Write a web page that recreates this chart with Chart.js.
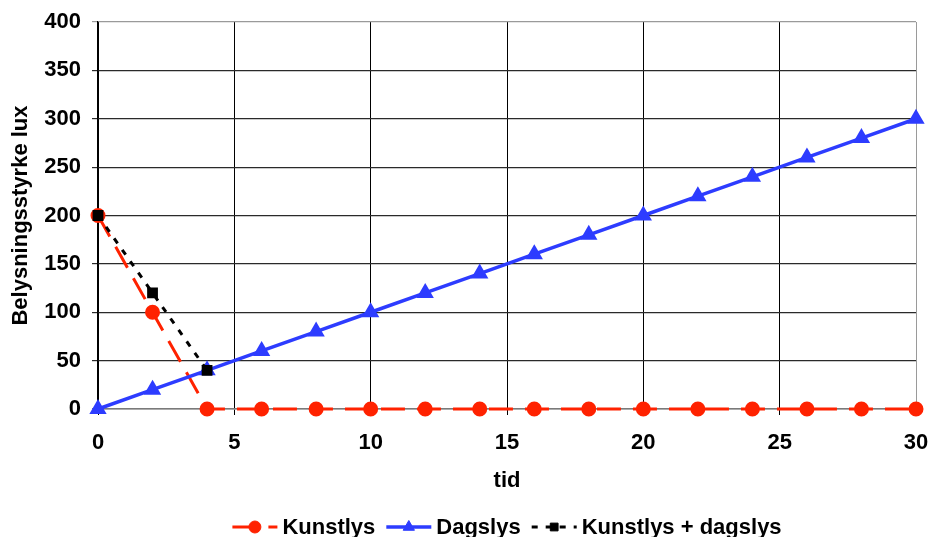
<!DOCTYPE html>
<html>
<head>
<meta charset="utf-8">
<script src="https://cdn.jsdelivr.net/npm/chart.js@4.4.1/dist/chart.umd.min.js"></script>
<style>
  html, body { margin: 0; padding: 0; background: #fff; }
  #wrap { position: relative; width: 928px; height: 537px; }
</style>
</head>
<body>
<div id="wrap"><canvas id="c"></canvas></div>
<script>
// time axis (tid)
const tid = [0, 2, 4, 6, 8, 10, 12, 14, 16, 18, 20, 22, 24, 26, 28, 30];
// artificial light, lux
const kunstlys = [200, 100, 0, 0, 0, 0, 0, 0, 0, 0, 0, 0, 0, 0, 0, 0];
// daylight, lux
const dagslys = [0, 20, 40, 60, 80, 100, 120, 140, 160, 180, 200, 220, 240, 260, 280, 300];
// artificial + daylight (first three time steps)
const kunstlysPlusDagslys = [200, 120, 40];

const seriesNames = ['Kunstlys', 'Dagslys', 'Kunstlys + dagslys'];
const xTitle = 'tid';
const yTitle = 'Belysningsstyrke lux';

const RED = '#ff2200';
const BLUE = '#2d3cff';
const BLACK = '#000000';
const FONT = '"Liberation Sans", Arial, Helvetica, sans-serif';

function pts(ys) { return ys.map((y, i) => ({ x: tid[i], y })); }

Chart.defaults.font.family = FONT;
Chart.defaults.color = '#000';

// legend drawn below the x-axis title: line sample + marker + label
const bottomLegend = {
  id: 'bottomLegend',
  afterDraw(chart) {
    const ctx = chart.ctx;
    const sampleW = 45, textGap = 5, itemGap = 11;
    const lineY = 527, textY = 534;
    ctx.save();
    ctx.font = 'bold 22px ' + FONT;
    const items = chart.data.datasets.map(ds => ({ ds, w: ctx.measureText(ds.label).width }));
    let total = 0;
    items.forEach((it, i) => { total += sampleW + textGap + it.w + (i ? itemGap : 0); });
    const ca = chart.chartArea;
    let x = (ca.left + ca.right) / 2 - total / 2;
    items.forEach(it => {
      const ds = it.ds;
      ctx.save();
      ctx.strokeStyle = ds.borderColor;
      ctx.lineWidth = ds.borderWidth;
      ctx.setLineDash(ds.borderDash || []);
      ctx.beginPath();
      ctx.moveTo(x, lineY);
      ctx.lineTo(x + sampleW, lineY);
      ctx.stroke();
      ctx.restore();
      ctx.save();
      ctx.fillStyle = ds.pointBackgroundColor;
      ctx.strokeStyle = ds.pointBorderColor;
      ctx.lineWidth = 1;
      ctx.setLineDash([]);
      Chart.helpers.drawPoint(ctx, {
        pointStyle: ds.pointStyle, radius: ds.pointRadius, rotation: 0, borderWidth: 1
      }, x + sampleW / 2, lineY);
      ctx.restore();
      ctx.fillStyle = '#000';
      ctx.textBaseline = 'alphabetic';
      ctx.textAlign = 'left';
      ctx.fillText(ds.label, x + sampleW + textGap, textY);
      x += sampleW + textGap + it.w + itemGap;
    });
    ctx.restore();
  }
};

new Chart(document.getElementById('c'), {
  type: 'line',
  data: {
    datasets: [
      {
        label: seriesNames[0],
        data: pts(kunstlys),
        borderColor: RED,
        backgroundColor: RED,
        pointBackgroundColor: RED,
        pointBorderColor: RED,
        borderWidth: 3,
        borderDash: [24, 12],
        pointStyle: 'circle',
        pointRadius: 6,
        pointHoverRadius: 6,
        order: 3,
        clip: false
      },
      {
        label: seriesNames[1],
        data: pts(dagslys),
        borderColor: BLUE,
        backgroundColor: BLUE,
        pointBackgroundColor: BLUE,
        pointBorderColor: BLUE,
        borderWidth: 3.5,
        pointStyle: 'triangle',
        pointRadius: 6.5,
        pointHoverRadius: 6.5,
        order: 2,
        clip: false
      },
      {
        label: seriesNames[2],
        data: pts(kunstlysPlusDagslys),
        borderColor: BLACK,
        backgroundColor: BLACK,
        pointBackgroundColor: BLACK,
        pointBorderColor: BLACK,
        borderWidth: 3,
        borderDash: [6, 8],
        pointStyle: 'rect',
        pointRadius: 5.5,
        pointHoverRadius: 5.5,
        order: 1,
        clip: false
      }
    ]
  },
  options: {
    responsive: true,
    maintainAspectRatio: false,
    animation: false,
    events: [],
    layout: { padding: { left: 0, top: 22, right: 12, bottom: 0 } },
    plugins: {
      legend: { display: false },
      tooltip: { enabled: false }
    },
    elements: { line: { tension: 0, fill: false } },
    scales: {
      x: {
        type: 'linear',
        min: 0,
        max: 30,
        afterFit(s) { s.height = 128; s.paddingLeft = 0; s.paddingRight = 0; },
        ticks: {
          stepSize: 5,
          padding: 15,
          maxRotation: 0,
          font: { size: 22, weight: 'bold' },
          color: '#000'
        },
        grid: {
          color: (c) => (c.index === 6 ? '#9a9a9a' : '#000'),
          lineWidth: 1,
          drawTicks: true,
          tickLength: 6
        },
        border: { display: true, color: '#7a7a7a', width: 1.5 },
        title: {
          display: true,
          text: xTitle,
          font: { size: 22, weight: 'bold' },
          color: '#000',
          padding: { top: 0, bottom: 43 }
        }
      },
      y: {
        min: 0,
        max: 400,
        afterFit(s) { s.width = 98; s.paddingTop = 0; s.paddingBottom = 0; },
        ticks: {
          stepSize: 50,
          padding: 11,
          font: { size: 22, weight: 'bold' },
          color: '#000'
        },
        grid: {
          color: (c) => (c.index === 8 ? '#9a9a9a' : (c.index === 0 ? '#7a7a7a' : '#2a2a2a')),
          lineWidth: 1.2,
          drawTicks: true,
          tickLength: 6
        },
        border: { display: true, color: '#000', width: 1.2 },
        title: {
          display: true,
          text: yTitle,
          font: { size: 22, weight: 'bold' },
          color: '#000',
          padding: { top: 8, bottom: 0 }
        }
      }
    }
  },
  plugins: [bottomLegend]
});
</script>
</body>
</html>
